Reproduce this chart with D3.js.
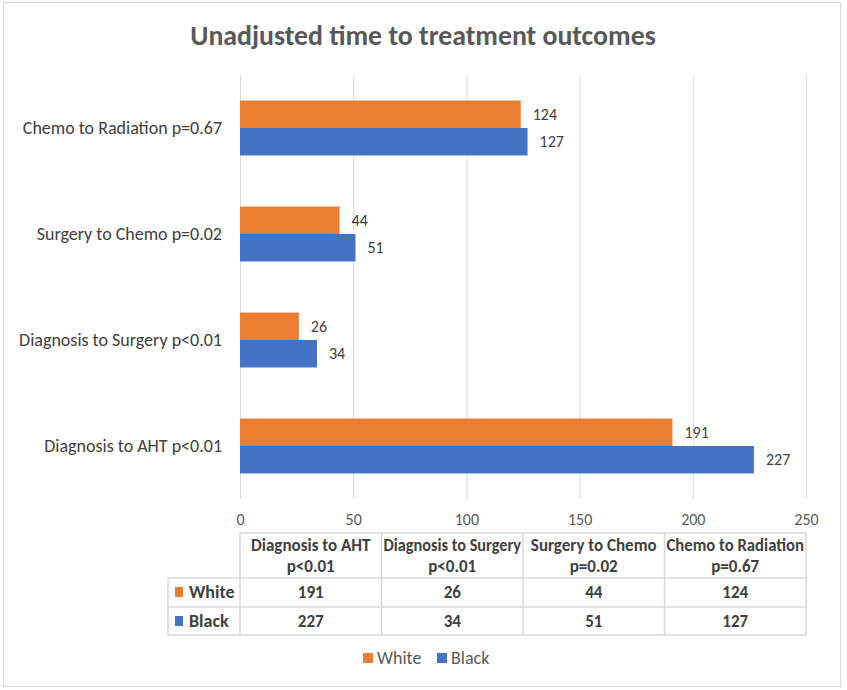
<!DOCTYPE html>
<html>
<head>
<meta charset="utf-8">
<script src="https://cdn.jsdelivr.net/npm/d3@7"></script>
<style>
  html, body { margin: 0; padding: 0; background: #fff; }
  svg { display: block; }
  text { font-family: Carlito, Calibri, Lato, "Open Sans", sans-serif; }
</style>
</head>
<body>
<svg id="chart" width="847" height="690"></svg>
<script>
// ---------- data ----------
const title = "Unadjusted time to treatment outcomes";
const categories = ["Diagnosis to AHT p<0.01", "Diagnosis to Surgery p<0.01", "Surgery to Chemo p=0.02", "Chemo to Radiation p=0.67"];
const tableHeaders = [["Diagnosis to AHT", "p<0.01"], ["Diagnosis to Surgery", "p<0.01"], ["Surgery to Chemo", "p=0.02"], ["Chemo to Radiation", "p=0.67"]];
const seriesNames = ["White", "Black"];
const whiteValues = [191, 26, 44, 124];
const blackValues = [227, 34, 51, 127];
const xTicks = [0, 50, 100, 150, 200, 250];
const colors = { White: "#ED7D31", Black: "#4472C4" };

const series = [
  { name: "White", values: whiteValues },
  { name: "Black", values: blackValues }
];

// ---------- layout ----------
const svg = d3.select("#chart");
const plot = { left: 240, right: 806, top: 75, bottom: 499 };
const gridColor = "#d9d9d9";
const textColor = "#595959";
const darkText = "#404040";
const FONT = "Carlito, Calibri, Lato, sans-serif";

// chart border
svg.append("rect")
  .attr("x", 3.5).attr("y", 2.5).attr("width", 837).attr("height", 684)
  .attr("fill", "#fff").attr("stroke", gridColor).attr("stroke-width", 1);

// title
svg.append("text")
  .attr("x", 423).attr("y", 35)
  .attr("text-anchor", "middle").attr("dominant-baseline", "central")
  .attr("font-size", 27.8).attr("font-weight", "bold").attr("fill", textColor)
  .text(title);

// scales
const x = d3.scaleLinear().domain([0, 250]).range([plot.left, plot.right]);
const y = d3.scaleBand().domain(categories.slice().reverse()).range([plot.top, plot.bottom]).padding(0);
const ySub = d3.scaleBand().domain(seriesNames).range([0, y.bandwidth()]).paddingInner(0).paddingOuter(0.93);

// gridlines via axis
const grid = svg.append("g")
  .attr("transform", `translate(0,${plot.bottom})`)
  .call(d3.axisBottom(x).tickValues(xTicks).tickSize(-(plot.bottom - plot.top)).tickFormat(""));
grid.select(".domain").remove();
grid.selectAll(".tick line").attr("stroke", gridColor).attr("stroke-width", 1);

// x tick labels via axis
const xAxis = svg.append("g")
  .attr("transform", `translate(0,${plot.bottom})`)
  .call(d3.axisBottom(x).tickValues(xTicks).tickSize(0).tickPadding(15).tickFormat(d3.format("d")));
xAxis.select(".domain").remove();
xAxis.selectAll("text")
  .attr("font-size", 16).attr("fill", textColor)
  .style("font-family", FONT);

// y category labels via axis
const yAxis = svg.append("g")
  .attr("transform", `translate(${plot.left},0)`)
  .call(d3.axisLeft(y).tickSize(0).tickPadding(18));
yAxis.select(".domain").remove();
yAxis.selectAll("text")
  .attr("font-size", 18).attr("fill", darkText)
  .style("font-family", FONT);

// bars
const rows = categories.map((c, i) => ({ cat: c, White: whiteValues[i], Black: blackValues[i] }));
const groups = svg.append("g").selectAll("g")
  .data(rows).join("g")
  .attr("transform", d => `translate(0,${y(d.cat)})`);

groups.selectAll("rect")
  .data(d => seriesNames.map(s => ({ s, v: d[s] })))
  .join("rect")
  .attr("x", x(0))
  .attr("y", d => ySub(d.s))
  .attr("width", d => x(d.v) - x(0))
  .attr("height", ySub.bandwidth())
  .attr("fill", d => colors[d.s]);

groups.selectAll("text.val")
  .data(d => seriesNames.map(s => ({ s, v: d[s] })))
  .join("text")
  .attr("class", "val")
  .attr("x", d => x(d.v) + 12)
  .attr("y", d => ySub(d.s) + ySub.bandwidth() / 2)
  .attr("dominant-baseline", "central")
  .attr("font-size", 16).attr("fill", darkText)
  .text(d => d.v);

// ---------- data table ----------
const tbl = { left: 168, top: 533, headerBottom: 578, mid: 607, bottom: 635 };
const col = d3.scaleBand().domain(tableHeaders.map(h => h.join(" "))).range([plot.left, plot.right]);
const tg = svg.append("g");
const line = (x1, y1, x2, y2) => tg.append("line")
  .attr("x1", x1).attr("y1", y1).attr("x2", x2).attr("y2", y2)
  .attr("stroke", gridColor).attr("stroke-width", 1.5);

// horizontal lines
line(plot.left, tbl.top, plot.right, tbl.top);
line(tbl.left, tbl.headerBottom, plot.right, tbl.headerBottom);
line(tbl.left, tbl.mid, plot.right, tbl.mid);
line(tbl.left, tbl.bottom, plot.right, tbl.bottom);
// vertical lines
line(tbl.left, tbl.headerBottom, tbl.left, tbl.bottom);
col.domain().forEach(k => line(col(k), tbl.top, col(k), tbl.bottom));
line(plot.right, tbl.top, plot.right, tbl.bottom);

// headers (two lines; squeezed to fit the column if needed)
const maxW = col.bandwidth() - 4;
tableHeaders.forEach(h => {
  const cx = col(h.join(" ")) + col.bandwidth() / 2;
  [[h[0], 545], [h[1], 566.5]].forEach(([t, ty]) => {
    const el = tg.append("text").attr("x", cx).attr("y", ty)
      .attr("text-anchor", "middle").attr("dominant-baseline", "central")
      .attr("font-size", 17).attr("font-weight", "bold").attr("fill", darkText).text(t);
    const w = el.node().getComputedTextLength();
    if (w > maxW) el.attr("textLength", maxW).attr("lengthAdjust", "spacingAndGlyphs");
  });
});

// series rows
const rowY = { White: 592, Black: 621 };
series.forEach(s => {
  tg.append("rect").attr("x", 175).attr("y", rowY[s.name] - 5).attr("width", 8).attr("height", 10)
    .attr("fill", colors[s.name]);
  tg.append("text").attr("x", 189).attr("y", rowY[s.name])
    .attr("dominant-baseline", "central")
    .attr("font-size", 18).attr("font-weight", "bold").attr("fill", darkText).text(s.name);
  s.values.forEach((v, i) => {
    const k = tableHeaders[i].join(" ");
    tg.append("text").attr("x", col(k) + col.bandwidth() / 2).attr("y", rowY[s.name])
      .attr("text-anchor", "middle").attr("dominant-baseline", "central")
      .attr("font-size", 17).attr("font-weight", "bold").attr("fill", darkText).text(v);
  });
});

// ---------- legend ----------
const legend = svg.append("g");
const legendItems = [{ name: "White", x: 363 }, { name: "Black", x: 437 }];
legendItems.forEach(it => {
  legend.append("rect").attr("x", it.x).attr("y", 653).attr("width", 10).attr("height", 10)
    .attr("fill", colors[it.name]);
  legend.append("text").attr("x", it.x + 14).attr("y", 658)
    .attr("dominant-baseline", "central")
    .attr("font-size", 18).attr("fill", textColor).text(it.name);
});
</script>
</body>
</html>
